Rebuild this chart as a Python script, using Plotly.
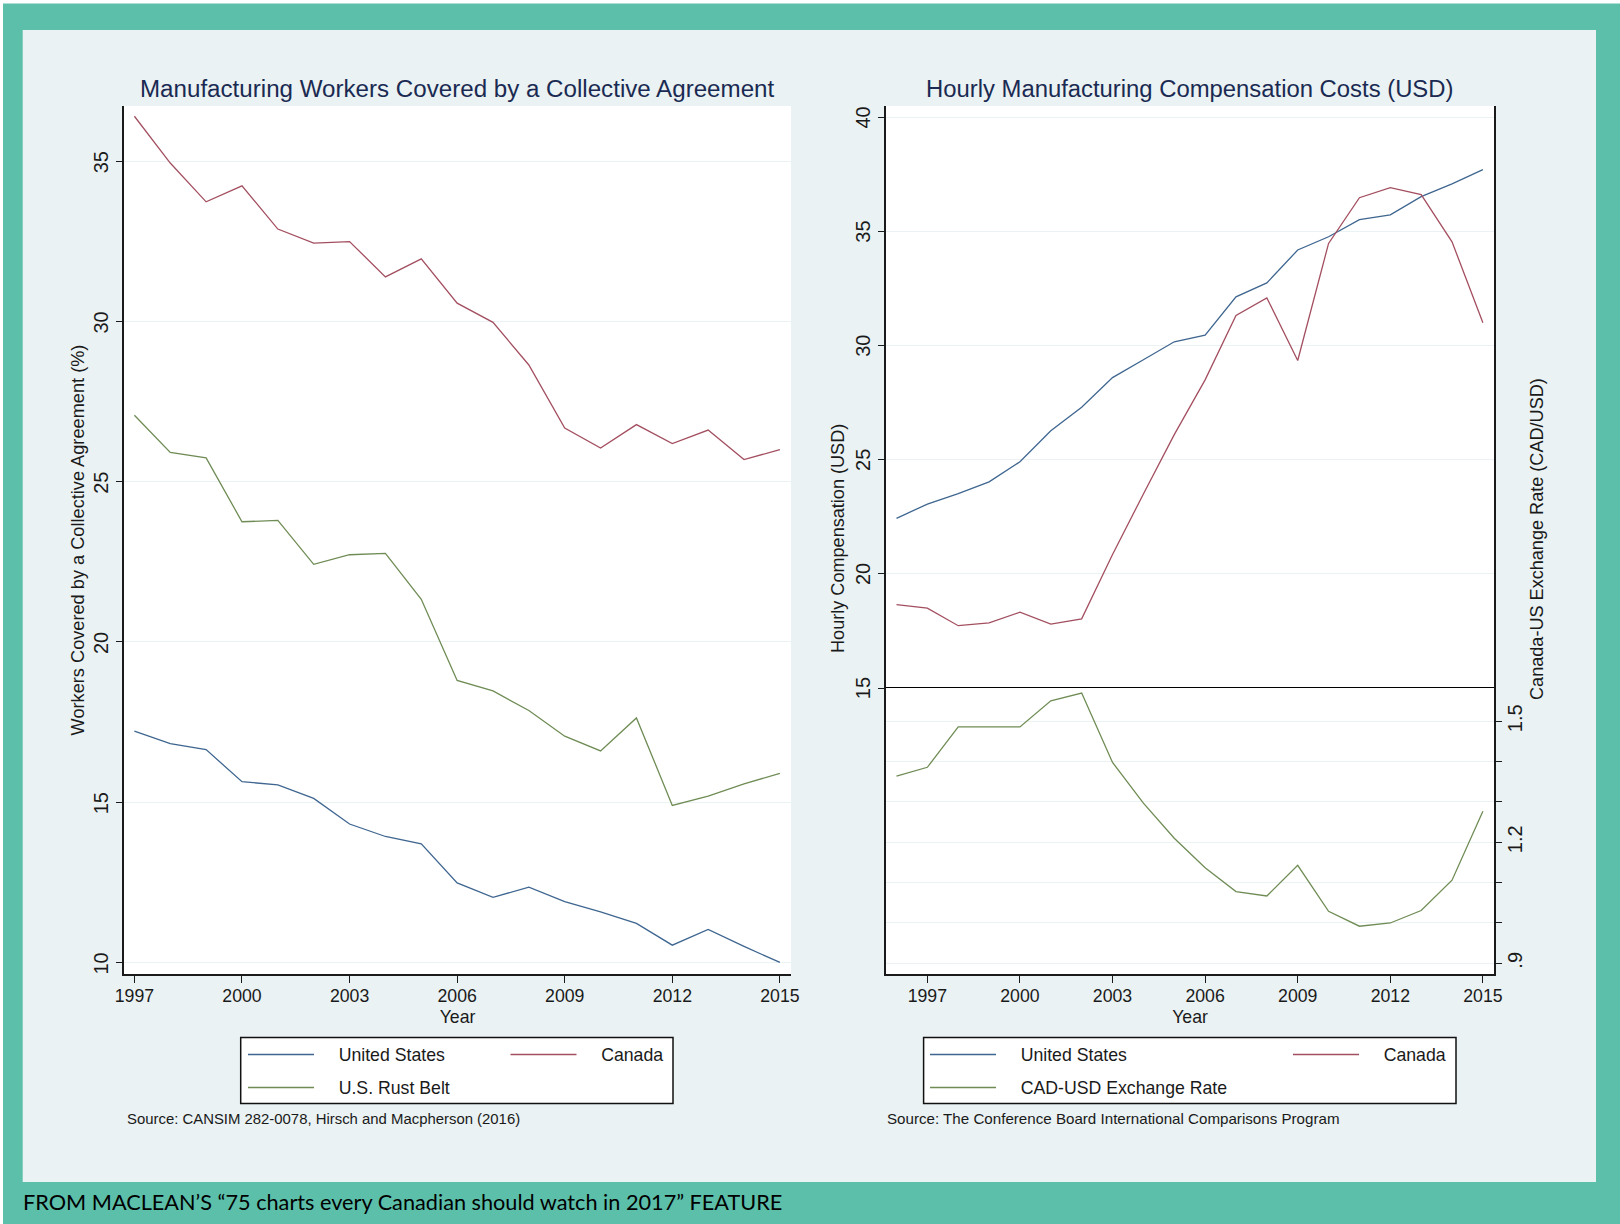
import plotly.graph_objects as go

W, H = 1620, 1224

# ---------- data ----------
years_left = list(range(1997, 2016))
years_right = list(range(1996, 2016))

coverage_us = [17.22, 16.83, 16.64, 15.64, 15.54, 15.12, 14.32, 13.93, 13.70, 12.48,
               12.03, 12.35, 11.90, 11.58, 11.22, 10.54, 11.03, 10.50, 10.00]
coverage_canada = [36.40, 34.94, 33.73, 34.23, 32.88, 32.44, 32.49, 31.39, 31.95, 30.57,
                   29.97, 28.64, 26.67, 26.05, 26.78, 26.19, 26.61, 25.69, 26.00]
coverage_rust = [27.07, 25.91, 25.74, 23.75, 23.79, 22.42, 22.72, 22.76, 21.33, 18.80,
                 18.47, 17.86, 17.06, 16.60, 17.63, 14.90, 15.19, 15.57, 15.90]

comp_us = [22.43, 23.06, 23.52, 24.03, 24.91, 26.27, 27.30, 28.60, 29.38, 30.17,
           30.46, 32.14, 32.75, 34.19, 34.77, 35.52, 35.73, 36.53, 37.09, 37.71]
comp_canada = [18.65, 18.50, 17.73, 17.85, 18.32, 17.80, 18.03, 20.85, 23.50, 26.10,
               28.50, 31.32, 32.09, 29.35, 34.48, 36.48, 36.92, 36.62, 34.55, 31.00]
exchange_rate = [1.364, 1.386, 1.486, 1.486, 1.486, 1.551, 1.570, 1.398, 1.297, 1.210,
                 1.137, 1.078, 1.067, 1.143, 1.029, 0.992, 1.000, 1.031, 1.106, 1.277]

x_ticks = [1997, 2000, 2003, 2006, 2009, 2012, 2015]
left_y_ticks = [10, 15, 20, 25, 30, 35]
right_y_ticks = [15, 20, 25, 30, 35, 40]
rate_ticks = [0.9, 1.0, 1.1, 1.2, 1.3, 1.4, 1.5]
rate_labels = [".9", "", "", "1.2", "", "", "1.5"]

# ---------- styles ----------
TEAL = "#5cbfaa"
PANEL = "#eaf2f3"
GRID = "#eaf2f3"
NAVY = "#1a2a52"
C_US = "#3f6690"
C_CA = "#a34f60"
C_GR = "#6f8c55"
AXIS = "#1a1a1a"
FONT = "Liberation Sans"
TICKX = dict(family=FONT, size=17.7, color="#1a1a1a")
TICKY = dict(family=FONT, size=20, color="#1a1a1a")
PAD = "\u00a0\u00a0\u00a0\u00a0"


def px(x):
    return x / W


def py(y):
    return 1 - y / H


fig = go.Figure()

series = [
    (years_left, coverage_us, "United States", C_US, "x", "y", "legend", 243, 1055),
    (years_left, coverage_canada, "Canada", C_CA, "x", "y", "legend2", 505.5, 1055),
    (years_left, coverage_rust, "U.S. Rust Belt", C_GR, "x", "y", "legend3", 243, 1088),
    (years_right, comp_us, "United States", C_US, "x2", "y2", "legend4", 925, 1055),
    (years_right, comp_canada, "Canada", C_CA, "x2", "y2", "legend5", 1288, 1055),
    (years_right, exchange_rate, "CAD-USD Exchange Rate", C_GR, "x2", "y3", "legend6", 925, 1088),
]
legend_layouts = {}
for xs, ys, name, col, xa, ya, leg, lx, ly in series:
    fig.add_trace(go.Scatter(x=xs, y=ys, mode="lines", name=PAD + name,
                             line=dict(color=col, width=1.3),
                             xaxis=xa, yaxis=ya, legend=leg, showlegend=True))
    legend_layouts[leg] = dict(x=px(lx), y=py(ly), xanchor="left", yanchor="middle",
                               bgcolor="rgba(0,0,0,0)", borderwidth=0, itemwidth=66,
                               font=dict(family=FONT, size=17.7, color="#1a1a1a"))

common_x = dict(tickmode="array", tickvals=x_ticks, ticks="outside", ticklen=7, tickwidth=1,
                tickcolor=AXIS, showline=True, linecolor=AXIS, linewidth=1.5, showgrid=False,
                zeroline=False, tickfont=TICKX, tickangle=0, ticklabelstandoff=-2)
common_y = dict(ticks="outside", ticklen=6, tickwidth=1, tickcolor=AXIS, showline=True,
                linecolor=AXIS, linewidth=1.5, showgrid=True, gridcolor=GRID, gridwidth=1,
                zeroline=False, tickfont=TICKY, tickangle=-90, tickmode="array")

axis_title_x = dict(text="Year", font=dict(family=FONT, size=17.7, color="#1a1a1a"), standoff=6)

fig.update_layout(
    width=W, height=H, margin=dict(l=0, r=0, t=0, b=0, pad=0, autoexpand=False),
    paper_bgcolor=TEAL, plot_bgcolor="white", showlegend=True, hovermode=False,
    xaxis=dict(domain=[px(124), px(791)], range=[1996.71, 2015.31], anchor="y",
               title=axis_title_x, **common_x),
    yaxis=dict(domain=[py(974), py(106)], range=[9.64, 36.72], anchor="x", tickvals=left_y_ticks,
               ticklabelstandoff=0, ticklabelshift=4,
               title=dict(text="Workers Covered by a Collective Agreement (%)",
                          font=dict(family=FONT, size=18.2, color="#1a1a1a"), standoff=1),
               **common_y),
    xaxis2=dict(domain=[px(886), px(1494)], range=[1995.66, 2015.36], anchor="y3",
                title=axis_title_x, **common_x),
    yaxis2=dict(domain=[py(688), py(106)], range=[15, 40.5], anchor="x2", tickvals=right_y_ticks,
                ticklabelstandoff=0, ticklabelshift=3, mirror=True, **common_y),
    yaxis3=dict(domain=[py(974), py(688)], range=[0.8735, 1.5826], anchor="x2", side="right",
                tickvals=rate_ticks, ticktext=rate_labels, ticklabelstandoff=-4, mirror=True,
                **common_y),
    **legend_layouts,
)

shapes = [
    # white sliver, light panel
    dict(type="rect", xref="paper", yref="paper", x0=0, x1=px(3), y0=0, y1=1,
         fillcolor="white", line_width=0, layer="below"),
    dict(type="rect", xref="paper", yref="paper", x0=0, x1=1, y0=py(3.5), y1=1,
         fillcolor="white", line_width=0, layer="below"),
    dict(type="rect", xref="paper", yref="paper", x0=px(22.7), x1=px(1596), y0=py(1182), y1=py(30),
         fillcolor=PANEL, line_width=0, layer="below"),
    # white plot areas over the panel
    dict(type="rect", xref="paper", yref="paper", x0=px(124), x1=px(791), y0=py(974), y1=py(106),
         fillcolor="white", line_width=0, layer="below"),
    dict(type="rect", xref="paper", yref="paper", x0=px(886), x1=px(1494), y0=py(974), y1=py(106),
         fillcolor="white", line_width=0, layer="below"),
    # legend frames
    dict(type="rect", xref="paper", yref="paper", x0=px(240.7), x1=px(673), y0=py(1103.5), y1=py(1037.4),
         fillcolor="white", line=dict(color="#111111", width=1.5), layer="below"),
    dict(type="rect", xref="paper", yref="paper", x0=px(923.6), x1=px(1456), y0=py(1103.5), y1=py(1037.4),
         fillcolor="white", line=dict(color="#111111", width=1.5), layer="below"),
    # divider of the right-hand chart
    dict(type="line", xref="x2 domain", yref="y2", x0=0, x1=1, y0=15, y1=15,
         line=dict(color="#000000", width=2)),
]

texts = [
    ("Manufacturing Workers Covered by a Collective Agreement", 457.6, 89, 24.15, NAVY, 0, "center"),
    ("Hourly Manufacturing Compensation Costs (USD)", 1189.4, 89, 23.85, NAVY, 0, "center"),
    ("Hourly Compensation (USD)", 838, 539, 18.1, "#1a1a1a", -90, "center"),
    ("Canada-US Exchange Rate (CAD/USD)", 1537, 539, 18.1, "#1a1a1a", -90, "center"),
    ("Source: CANSIM 282-0078, Hirsch and Macpherson (2016)", 125, 1119, 14.9, "#1a1a1a", 0, "left"),
    ("Source: The Conference Board International Comparisons Program", 884.5, 1118.3, 15.15, "#1a1a1a", 0, "left"),
]
annotations = [
    dict(text=t, xref="paper", yref="paper", x=px(x), y=py(y), xanchor=a, yanchor="middle",
         showarrow=False, textangle=ang, font=dict(family=FONT, size=s, color=c))
    for t, x, y, s, c, ang, a in texts
]
annotations.append(dict(text="FROM MACLEAN’S “75 charts every Canadian should watch in 2017” FEATURE",
                        xref="paper", yref="paper", x=px(21), y=py(1202), xanchor="left",
                        yanchor="middle", showarrow=False,
                        font=dict(family="Lato", size=21.7, color="#000000")))
fig.update_layout(shapes=shapes, annotations=annotations)

fig.write_html("out.html", config=dict(displayModeBar=False),
               post_script="document.body.style.margin='0';document.body.style.overflow='hidden';")
